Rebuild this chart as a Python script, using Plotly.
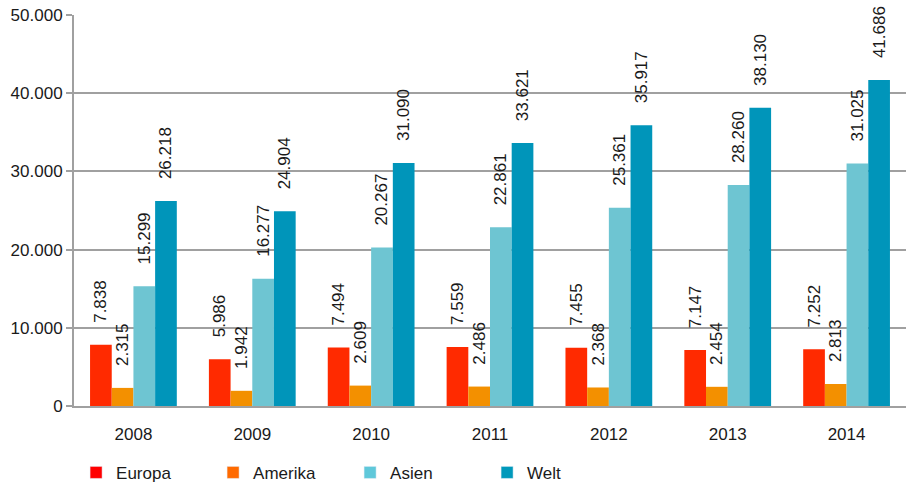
import plotly.graph_objects as go

years = ["2008", "2009", "2010", "2011", "2012", "2013", "2014"]
europa = [7838, 5986, 7494, 7559, 7455, 7147, 7252]
amerika = [2315, 1942, 2609, 2486, 2368, 2454, 2813]
asien = [15299, 16277, 20267, 22861, 25361, 28260, 31025]
welt = [26218, 24904, 31090, 33621, 35917, 38130, 41686]

series = [
    ("Europa", europa, "#FF2A00", "#FF0000"),
    ("Amerika", amerika, "#F39000", "#FF6A00"),
    ("Asien", asien, "#6EC5D2", "#5FC8DA"),
    ("Welt", welt, "#0095BA", "#0099BB"),
]

FONT = "Liberation Sans, Arial, sans-serif"
TXT = "#1a1a1a"
FS = 17

fig = go.Figure()
for name, vals, bar_col, key_col in series:
    fig.add_trace(go.Bar(
        x=years, y=vals, name=name, showlegend=False,
        marker=dict(color=bar_col, line=dict(width=0)),
        texttemplate="\u00a0\u00a0\u00a0\u00a0%{y:,.0f}",
        textposition="outside", textangle=-90, constraintext="none",
        cliponaxis=False,
        outsidetextfont=dict(family=FONT, size=FS, color=TXT),
        hoverinfo="skip",
    ))
# legend keys, kept on a hidden overlay axis so they take no bar slot
for name, vals, bar_col, key_col in series:
    fig.add_trace(go.Bar(
        x=[years[0]], y=[None], name=name, showlegend=True,
        xaxis="x2", yaxis="y2",
        marker=dict(color=key_col), hoverinfo="skip",
    ))

fig.update_layout(
    width=914, height=484,
    margin=dict(l=74, r=8, t=15, b=78, autoexpand=False),
    paper_bgcolor="white", plot_bgcolor="white",
    separators=",.",
    barmode="group", bargap=0.27, bargroupgap=0,
    font=dict(family=FONT, size=FS, color=TXT),
    showlegend=True,
    legend=dict(
        orientation="h", x=0.0025, xanchor="left", y=-0.125, yanchor="top",
        font=dict(family=FONT, size=FS, color=TXT),
        entrywidth=92, entrywidthmode="pixels",
        itemclick=False, itemdoubleclick=False,
        traceorder="normal",
    ),
    xaxis=dict(
        showgrid=False, showline=True, linecolor="#a0a0a0", linewidth=2,
        ticks="", ticklabelstandoff=12, fixedrange=True,
        tickfont=dict(family=FONT, size=FS, color=TXT),
    ),
    yaxis=dict(
        range=[0, 50000], tickvals=[0, 10000, 20000, 30000, 40000, 50000],
        tickformat=",.0f",
        showgrid=True, gridcolor="#a0a0a0", gridwidth=2,
        showline=True, linecolor="#a0a0a0", linewidth=2,
        ticks="outside", ticklen=6, tickwidth=2, tickcolor="#a0a0a0",
        zeroline=False, fixedrange=True,
        tickfont=dict(family=FONT, size=FS, color=TXT),
    ),
    xaxis2=dict(overlaying="x", visible=False, fixedrange=True),
    yaxis2=dict(overlaying="y", visible=False, range=[0, 1], fixedrange=True),
)

fig.write_html("out.html", config={"displayModeBar": False})
